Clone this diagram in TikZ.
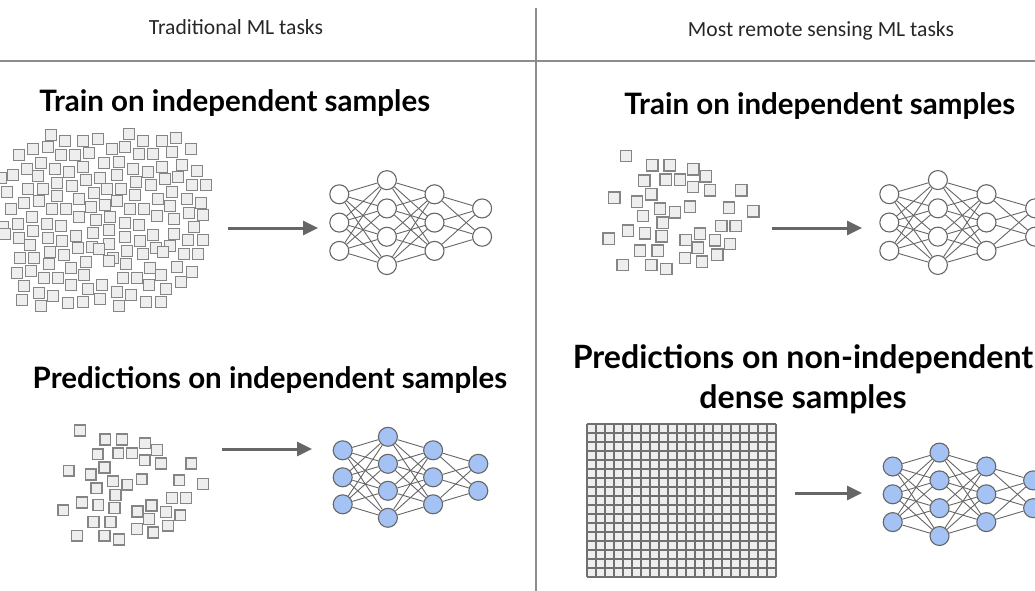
\documentclass[tikz,border=0pt]{standalone}
\usepackage{fontspec}
\setmainfont{Lato}
\newfontfamily\headfont{Carlito}
\usetikzlibrary{arrows.meta}

\definecolor{edgegray}{HTML}{666666}
\definecolor{boxfill}{HTML}{EEEEEE}
\definecolor{boxline}{HTML}{858585}
\definecolor{gridline}{HTML}{707070}
\definecolor{neuronblue}{HTML}{A4C2F4}
\definecolor{rulegray}{HTML}{8C8C8C}

\pgfdeclarelayer{wires}
\pgfsetlayers{wires,main}

\tikzset{
  neuron/.style={circle, draw=edgegray, line width=1.1pt, minimum size=19pt, inner sep=0pt, fill=white},
  active/.style={neuron, fill=neuronblue},
  wire/.style={draw=edgegray, line width=0.9pt},
  sample/.style={draw=boxline, fill=boxfill, line width=1.4pt},
  gridcell/.style={draw=gridline, line width=1.5pt},
  flow/.style={draw=edgegray, line width=3pt, -{Triangle[length=15pt,width=14pt]}},
  title/.style={font=\fontsize{29.5}{40}\selectfont\bfseries, anchor=base},
  bigtitle/.style={font=\fontsize{32.1}{40}\selectfont\bfseries},
  heading/.style={font=\headfont\fontsize{21.6}{26}\selectfont, text=black!85},
  rule/.style={draw=rulegray, line width=1.2pt},
}

% one sample square centred on a point
\newcommand\samplebox[2]{\draw[sample] (#1-5.6,#2-5.6) rectangle (#1+5.6,#2+5.6);}

% a 3-4-3-2 network: prefix, first x, middle y, layer gap, node gap, node style
\newcommand\drawnet[6]{%
  \foreach \i in {1,2,3} \node[#6] (#1a\i) at (#2, #3+\i*#5-2*#5) {};
  \foreach \i in {1,...,4} \node[#6] (#1b\i) at (#2+#4, #3+\i*#5-2.5*#5) {};
  \foreach \i in {1,2,3} \node[#6] (#1c\i) at (#2+2*#4, #3+\i*#5-2*#5) {};
  \foreach \i in {1,2} \node[#6] (#1d\i) at (#2+3*#4, #3+\i*#5-1.5*#5) {};
  \begin{pgfonlayer}{wires}
    \foreach \i in {1,2,3} \foreach \j in {1,...,4} \draw[wire] (#1a\i) -- (#1b\j);
    \foreach \i in {1,...,4} \foreach \j in {1,2,3} \draw[wire] (#1b\i) -- (#1c\j);
    \foreach \i in {1,2,3} \foreach \j in {1,2} \draw[wire] (#1c\i) -- (#1d\j);
  \end{pgfonlayer}
}

% sparse sample cloud
\def\sparsepts{626/156, 652.3/165.3, 669.7/165.3, 693.3/169.3, 705.7/176.3,
  644.3/180.7, 665.7/179.7, 680/179.7, 693/187, 710/190.3, 741.3/190.3,
  614.3/197.7, 637/201.7, 651.3/194.3, 660/208.7, 675/212.3, 690/206.7,
  729/207.7, 753.3/211.3, 643/216, 662.7/222.7, 721.3/226, 735.7/226,
  628/230.7, 645/233.3, 661.7/236.3, 700/233.7, 608.7/238.7, 685.7/240,
  715/240.3, 730/244, 697.7/247.7, 640/250.7, 657.7/250.7, 717.3/254.7,
  685/258, 702/261.7, 622.7/265, 651.3/265, 666.3/269}

% dense sample cloud
\def\densepts{51/135, 129/134, 65/141, 83/141, 98/139, 143/141, 162/141, 176/138,
  33/149, 48/147, 112/149, 125/147, 191/149, 19/155, 61/155, 75/155, 89/153,
  139/154, 153/154, 172/152, 41/163, 104/163, 119/162, 182/165, 27/169, 55/169,
  83/167, 69/172, 133/169, 148/172, 162/167, 197/171, 13/175, 38/176, 86/180,
  100/178, 117/175, 178/177, 1/178, 57/183, 72/186, 136/182, 151/185, 165/179,
  192/185, 206/185, 7/192, 28/189, 43/189, 94/193, 107/189, 121/189, 172/192,
  57/196, 79/199, 135/195, 158/199, 187/199, 201/203, 24/203, 39/201, 52/209,
  66/209, 91/207, 105/205, 117/201, 170/206, 11/209, 130/209, 144/209, 189/213,
  203/215, 32/217, 79/217, 96/220, 110/217, 157/216, 174/219, 3/227, 18/224,
  47/224, 61/226, 125/223, 139/225, 194/227, 33/231, 76/236, 93/233, 109/230,
  153/235, 174/234, 5/234, 19/238, 48/238, 62/241, 125/237, 140/241, 188/240,
  203/240, 30/245, 78/248, 92/247, 109/244, 156/248, 170/246, 50/252, 64/255,
  99/249, 113/258, 127/251, 143/254, 184/254, 198/254, 20/258, 34/258, 49/264,
  86/262, 109/261, 126/264, 163/252, 177/267, 17/273, 31/271, 71/268, 150/268,
  192/272, 44/278, 58/278, 84/275, 123/278, 137/278, 161/275, 181/282, 24/286,
  71/285, 102/285, 149/285, 166/289, 39/293, 53/296, 88/289, 117/292, 131/295,
  22/300, 68/303, 83/302, 100/299, 146/302, 161/302, 41/306, 119/306}

\begin{document}
\begin{tikzpicture}[x=1pt, y=-1pt]
  \useasboundingbox (0,0) rectangle (1035,591);

  % column headings and rules
  \node[heading] (lefthead) at (236,27) {Traditional ML tasks};
  \node[heading] (righthead) at (821,31) {Most remote sensing ML tasks};
  \coordinate (divtop) at (536,8);
  \coordinate (divbot) at (536,591);
  \coordinate (ruleleft) at (0,61);
  \coordinate (ruleright) at (1035,61);
  \draw[rule] (divtop) -- (divbot);
  \draw[rule] (ruleleft) -- (ruleright);

  % section titles
  \node[title] (lefttrain) at (234.7,111.7) {Train on independent samples};
  \node[title] (righttrain) at (819.9,115) {Train on independent samples};
  \node[title] (leftpred) at (270,388) {Predictions on independent samples};
  \node[bigtitle, align=center] (rightpred) at (803,379)
    {Predictions on non-independent\\dense samples};

  % sample clouds
  \foreach \x/\y in \densepts {\samplebox{\x}{\y}}
  \foreach \x/\y in \sparsepts {\samplebox{\x}{\y}}
  \begin{scope}[shift={(68.7,470.7)}, scale=0.965, shift={(-614.3,-197.7)}]
    \foreach \x/\y in \sparsepts {\samplebox{\x}{\y}}
  \end{scope}

  % dense prediction grid: 21 x 17 cells of 9pt
  \fill[boxfill] (587,424) rectangle (776,577);
  \foreach \i in {0,...,21} \draw[gridcell] (587+9*\i,424) -- (587+9*\i,577);
  \foreach \j in {0,...,17} \draw[gridcell] (587,424+9*\j) -- (776,424+9*\j);

  % networks
  \drawnet{tl}{339.3}{222.6}{47.6}{28.3}{neuron}
  \drawnet{tr}{889.3}{222.5}{48.6}{28.3}{neuron}
  \drawnet{bl}{342.7}{477.3}{45.2}{27}{active}
  \drawnet{br}{892.7}{494.3}{46.8}{27.8}{active}

  % arrows from samples to networks
  \coordinate (tlfrom) at (228,228);  \coordinate (tlto) at (318,228);
  \coordinate (trfrom) at (772,228);  \coordinate (trto) at (862,228);
  \coordinate (blfrom) at (222,449);  \coordinate (blto) at (312,449);
  \coordinate (brfrom) at (795,493);  \coordinate (brto) at (862,493);
  \draw[flow] (tlfrom) -- (tlto);
  \draw[flow] (trfrom) -- (trto);
  \draw[flow] (blfrom) -- (blto);
  \draw[flow] (brfrom) -- (brto);
\end{tikzpicture}
\end{document}
